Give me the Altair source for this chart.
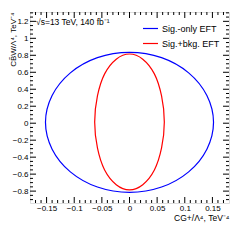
import altair as alt
import pandas as pd

# Contour points (x = C_G+/Λ^4, y = C_B~W/Λ^4)
blue_x = [0.152, 0.140, 0.107, 0.058, 0.0, -0.058, -0.107, -0.140,
          -0.152, -0.140, -0.107, -0.058, 0.0, 0.058, 0.107, 0.140]
blue_y = [0.010, 0.326, 0.593, 0.772, 0.835, 0.772, 0.593, 0.326,
          0.010, -0.306, -0.573, -0.752, -0.815, -0.752, -0.573, -0.306]
red_x = [0.063, 0.058, 0.045, 0.024, 0.0, -0.024, -0.045, -0.058,
         -0.063, -0.058, -0.045, -0.024, 0.0, 0.024, 0.045, 0.058]
red_y = [0.015, 0.321, 0.581, 0.754, 0.815, 0.754, 0.581, 0.321,
         0.015, -0.291, -0.551, -0.724, -0.785, -0.724, -0.551, -0.291]

series_names = ["Sig.-only EFT", "Sig.+bkg. EFT"]
series_colors = ["#0000ff", "#ff0000"]

x_major = [-0.15, -0.1, -0.05, 0.0, 0.05, 0.1, 0.15]
x_minor = [-0.17, -0.16, -0.14, -0.13, -0.12, -0.11, -0.09, -0.08, -0.07, -0.06,
           -0.04, -0.03, -0.02, -0.01, 0.01, 0.02, 0.03, 0.04, 0.06, 0.07,
           0.08, 0.09, 0.11, 0.12, 0.13, 0.14, 0.16, 0.17]
y_major = [-0.8, -0.6, -0.4, -0.2, 0.0, 0.2, 0.4, 0.6, 0.8, 1.0, 1.2]
y_minor = [-0.9, -0.85, -0.75, -0.7, -0.65, -0.55, -0.5, -0.45, -0.35, -0.3, -0.25,
           -0.15, -0.1, -0.05, 0.05, 0.1, 0.15, 0.25, 0.3, 0.35, 0.45, 0.5, 0.55,
           0.65, 0.7, 0.75, 0.85, 0.9, 0.95, 1.05, 1.1, 1.15, 1.25, 1.3]

x_domain = [-0.18, 0.18]
y_domain = [-0.94, 1.31]

W, H = 199, 191
FONT = "Liberation Sans"

rows = []
for name, xs, ys in [(series_names[0], blue_x, blue_y), (series_names[1], red_x, red_y)]:
    for i, (a, b) in enumerate(zip(xs, ys)):
        rows.append({"series": name, "x": a, "y": b, "order": i})
df = pd.DataFrame(rows)

xscale = alt.Scale(domain=x_domain, nice=False, zero=False)
yscale = alt.Scale(domain=y_domain, nice=False, zero=False)

xaxis = alt.Axis(values=x_major, format="~g", tickSize=0, domain=False, grid=False,
                 labelFont=FONT, labelFontSize=8, labelColor="black", labelPadding=1,
                 title="CG+/Λ⁴, TeV⁻⁴", titleFont=FONT, titleFontSize=8.5,
                 titleFontWeight="normal", titleAnchor="end", titlePadding=1,
                 titleColor="black")
yaxis = alt.Axis(values=y_major, format="~g", tickSize=0, domain=False, grid=False,
                 labelFont=FONT, labelFontSize=8, labelColor="black", labelPadding=2,
                 title="CB̃W/Λ⁴, TeV⁻⁴", titleFont=FONT, titleFontSize=8,
                 titleFontWeight="normal", titleColor="black",
                 titleX=-17, titleY=0, titleAngle=-90, titleAlign="right",
                 titleBaseline="middle")

lines = alt.Chart(df).mark_line(interpolate="cardinal-closed", strokeWidth=1.2).encode(
    x=alt.X("x:Q", scale=xscale, axis=xaxis),
    y=alt.Y("y:Q", scale=yscale, axis=yaxis),
    color=alt.Color("series:N",
                    scale=alt.Scale(domain=series_names, range=series_colors),
                    legend=alt.Legend(title=None, orient="none", legendX=112, legendY=8,
                                      symbolType="stroke", symbolSize=225, symbolStrokeWidth=1.2,
                                      labelFont=FONT, labelFontSize=9, labelColor="black",
                                      labelOffset=3, rowPadding=1)),
    order="order:Q",
)

def xticks(vals, length, top):
    d = pd.DataFrame({"x": vals})
    y0 = 0 if top else H
    y1 = length if top else H - length
    return alt.Chart(d).mark_rule(color="black", strokeWidth=1).encode(
        x=alt.X("x:Q", scale=xscale, axis=xaxis), y=alt.value(y0), y2=alt.value(y1))

def yticks(vals, length, right):
    d = pd.DataFrame({"y": vals})
    x0 = W if right else 0
    x1 = W - length if right else length
    return alt.Chart(d).mark_rule(color="black", strokeWidth=1).encode(
        y=alt.Y("y:Q", scale=yscale, axis=yaxis), x=alt.value(x0), x2=alt.value(x1))

ticks = [
    xticks(x_major, 6, False), xticks(x_minor, 3, False),
    xticks(x_major, 6, True), xticks(x_minor, 3, True),
    yticks(y_major, 6, False), yticks(y_minor, 3, False),
    yticks(y_major, 6, True), yticks(y_minor, 3, True),
]

chart = alt.layer(lines, *ticks).properties(
    width=W, height=H,
    title=alt.TitleParams("√s=13 TeV, 140 fb⁻¹", anchor="start", frame="group", dx=6,
                          offset=-15, font=FONT, fontSize=8.5, fontWeight="normal",
                          color="black"),
    autosize=alt.AutoSizeParams(type="none"),
    padding={"left": 22, "top": 4, "right": 12, "bottom": 29},
).configure_view(stroke="black", strokeWidth=1).configure(background="white")

chart.save("out.html", embed_options={"renderer": "svg", "actions": False})
